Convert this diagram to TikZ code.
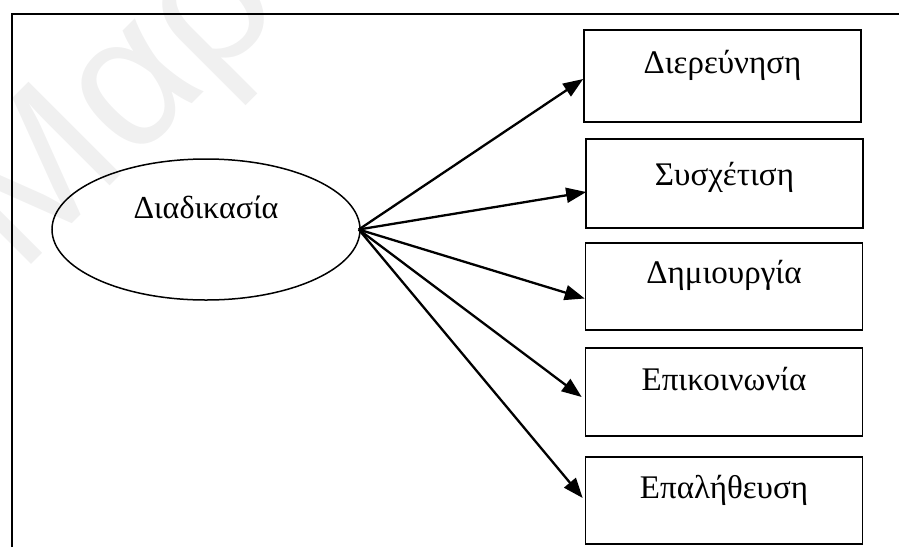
\documentclass[tikz,border=0pt]{standalone}
\usepackage{fontspec}
\setmainfont{Liberation Serif}
\newfontfamily\marksans{Liberation Sans}
\usetikzlibrary{arrows.meta,calc,shapes.geometric}

\begin{document}
\begin{tikzpicture}[x=1pt,y=-1pt,
  stepbox/.style={draw,line width=1.6pt,font=\fontsize{33}{39}\selectfont,
    minimum width=277pt,inner sep=0pt,align=center},
  hub/.style={draw,ellipse,line width=1.5pt,font=\fontsize{32}{38}\selectfont,
    minimum width=308pt,minimum height=141pt,inner sep=0pt,
    text height=22pt,text depth=45pt},
  link/.style={line width=2.3pt,-{Triangle[length=20pt,width=15pt]}},
  frameline/.style={line width=1.9pt},
  watermark/.style={font=\marksans\fontsize{190}{190}\selectfont,
    text=black!6,inner sep=0pt}]

  \useasboundingbox (0,0) rectangle (899,547);
  \clip (0,0) rectangle (899,547);

  % faint watermark behind everything
  \node[watermark,rotate=45,anchor=base west] (mark) at (20,276) {Μαρία};

  % open frame: top and left edges
  \draw[frameline] (12,547) -- (12,14) -- (899,14);

  % central process
  \node[hub] (proc) at (206,229.5) {Διαδικασία};

  % stages
  \node[stepbox,text height=43pt,text depth=49pt] (b1) at (722.5,76)   {Διερεύνηση};
  \node[stepbox,text height=46pt,text depth=43pt] (b2) at (724.5,183.5) {Συσχέτιση};
  \node[stepbox,text height=40pt,text depth=47pt] (b3) at (724,286.5)  {Δημιουργία};
  \node[stepbox,text height=42pt,text depth=46pt] (b4) at (724,392)    {Επικοινωνία};
  \node[stepbox,text height=41pt,text depth=46pt] (b5) at (724,500.5)  {Επαλήθευση};

  % arrows fanning out from the right end of the ellipse
  \coordinate (src) at ($(proc.east)+(-2,0)$);
  \draw[link] (src) -- ($(b1.west)+(0,3)$);
  \draw[link] (src) -- ($(b2.west)+(1,8.5)$);
  \draw[link] (src) -- ($(b3.west)+(0,12)$);
  \draw[link] (src) -- ($(b4.west)+(-3,5)$);
  \draw[link] (src) -- ($(b5.west)+(-2,-2.5)$);
\end{tikzpicture}
\end{document}
